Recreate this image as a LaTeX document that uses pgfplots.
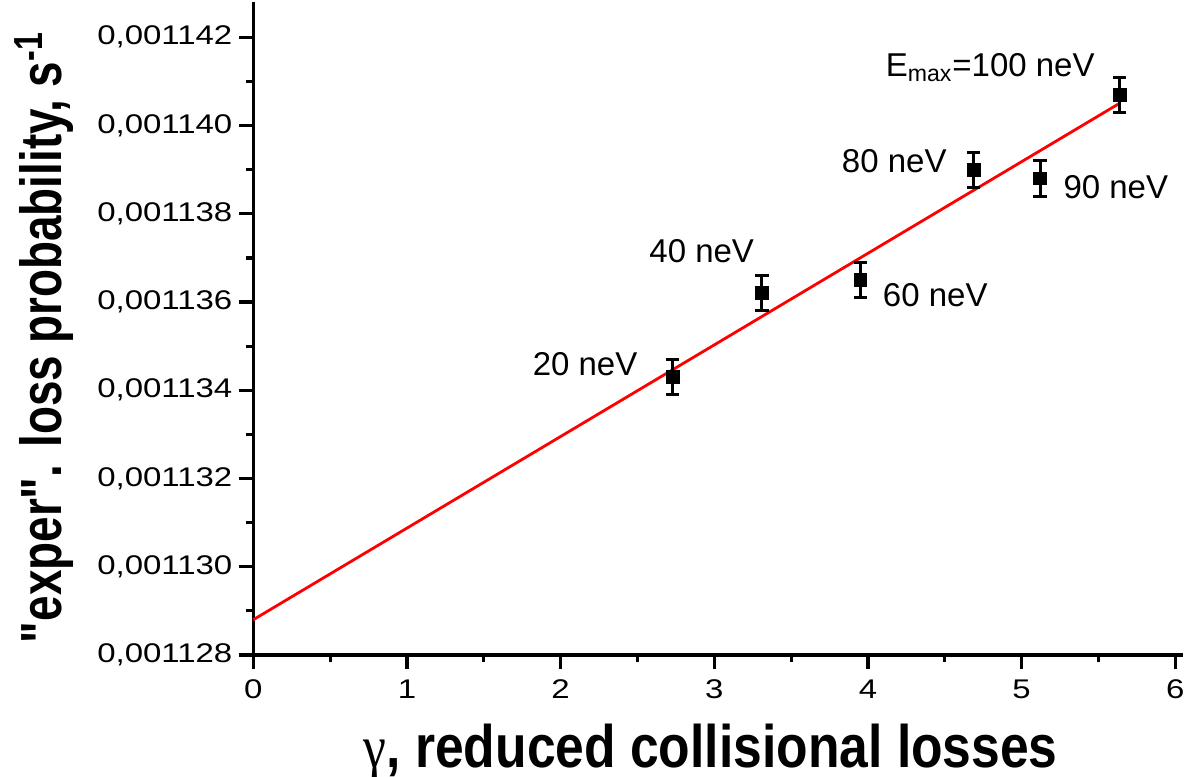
\documentclass[border=0pt]{standalone}
\usepackage{pgfplots}
\pgfplotsset{compat=1.18}
\usepackage{fontspec}
\setmainfont{Liberation Sans}
\newfontfamily\greekserif{Liberation Serif}
\newcommand\tl[1]{\scalebox{1.22}[1]{\fontsize{13.5}{15}\selectfont #1}}
\begin{document}
\begin{tikzpicture}
\useasboundingbox (0,0) rectangle (593pt,388pt);
\begin{axis}[
  at={(126.65pt,60.5pt)}, anchor=south west,
  scale only axis, width=464.85pt, height=326.5pt,
  xmin=0, xmax=6.05, ymin=0.001128, ymax=0.0011428,
  axis x line=bottom, axis y line=left,
  axis line style={-, line width=1.6pt, black},
  tick align=outside, major tick length=7pt, minor tick length=3.5pt,
  every tick/.style={black, line width=1.6pt},
  xtick={0,1,2,3,4,5,6},
  xticklabels={\tl{0},\tl{1},\tl{2},\tl{3},\tl{4},\tl{5},\tl{6}},
  ytick={0.001128,0.001130,0.001132,0.001134,0.001136,0.001138,0.001140,0.001142},
  yticklabels={\tl{0,001128},\tl{0,001130},\tl{0,001132},\tl{0,001134},\tl{0,001136},\tl{0,001138},\tl{0,001140},\tl{0,001142}},
  minor x tick num=1, minor y tick num=1,
  tick label style={font=\fontsize{13.5}{15}\selectfont},
  xticklabel style={yshift=-2pt},
  /pgf/number format/assume math mode=true,
  xlabel={\scalebox{0.86}[1]{{\mdseries\greekserif γ}, reduced collisional losses}},
  xlabel style={font=\bfseries\fontsize{30}{34}\selectfont, at={(axis description cs:0.492,-0.173)}, anchor=base},
  ylabel={\scalebox{0.79}[1]{\textquotedbl exper\textquotedbl. loss probability, s\textsuperscript{-1}}},
  ylabel style={font=\bfseries\fontsize{29}{33}\selectfont, at={(axis description cs:-0.2068,0.486)}, anchor=base},
  clip=false,
]
\addplot[red, line width=1.4pt] coordinates {(0,0.0011288) (5.64,0.00114051)};
\addplot[only marks, mark=square*, mark size=3.2pt, black,
  error bars/.cd, y dir=both, y explicit,
  error bar style={line width=1.5pt, black},
  error mark options={rotate=90, line width=1.5pt, black, mark size=3.3pt}]
  table[x=x, y=y, y error=e] {
x y e
2.728 0.0011343 0.0000004
3.310 0.0011362 0.0000004
3.950 0.0011365 0.0000004
4.688 0.0011390 0.0000004
5.120 0.0011388 0.0000004
5.638 0.0011407 0.0000004
};
\begin{scope}[every node/.style={font=\fontsize{16.5}{18}\selectfont}]
\node at (axis cs:2.159,0.0011346) {20 neV};
\node at (axis cs:2.918,0.00113716) {40 neV};
\node at (axis cs:4.438,0.00113615) {60 neV};
\node at (axis cs:4.171,0.00113919) {80 neV};
\node at (axis cs:5.613,0.00113861) {90 neV};
\node[anchor=base west, inner sep=0pt] at (axis cs:4.113,0.00114112) {E\textsubscript{max}=100 neV};
\end{scope}
\end{axis}
\end{tikzpicture}
\end{document}
